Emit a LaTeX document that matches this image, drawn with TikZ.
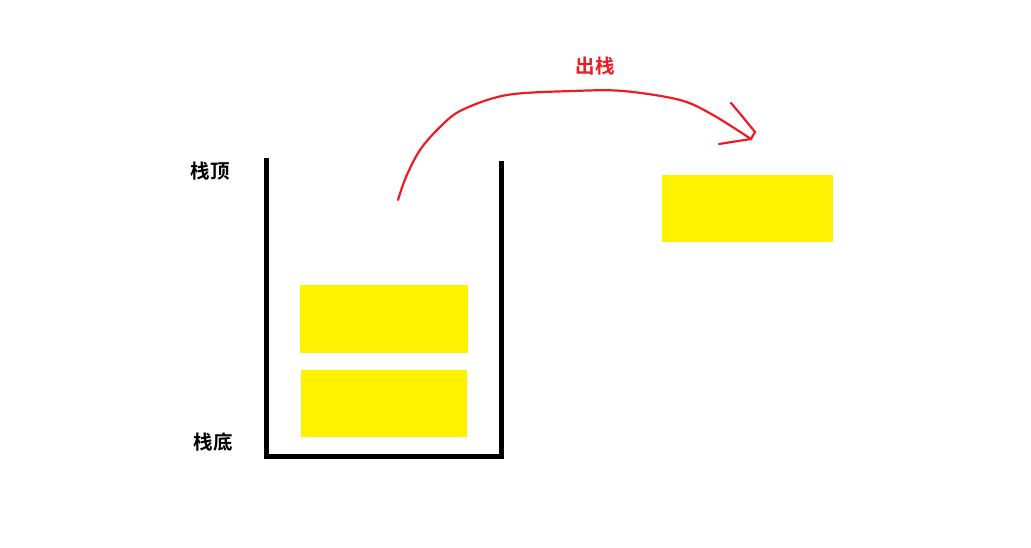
\documentclass[tikz,border=0pt]{standalone}
\usepackage{fontspec}
\newfontfamily\cjk{Noto Sans CJK SC}[BoldFont={Noto Sans CJK SC Bold}]
\definecolor{pred}{RGB}{237,28,36}
\definecolor{pyel}{RGB}{255,242,0}
\begin{document}
\begin{tikzpicture}[x=1pt,y=-1pt,
  block/.style={fill=pyel,draw=none},
  wall/.style={line width=5pt,black},
  lbl/.style={font=\cjk\bfseries\fontsize{19.5}{22}\selectfont,inner sep=0pt},
  redline/.style={pred,line width=2.2pt,line cap=round,line join=round}]
\useasboundingbox (0,0) rectangle (1031,547);
% stack
\coordinate (tl) at (266.5,158);
\coordinate (bl) at (266.5,456);
\coordinate (br) at (501.5,456);
\coordinate (tr) at (501.5,161);
\draw[wall] (tl) -- ([yshift=2.5pt]bl) ;
\draw[wall] ([xshift=-2.5pt]bl) -- ([xshift=2.5pt]br);
\draw[wall] ([yshift=2.5pt]br) -- (tr);
% blocks
\fill[block] (300,285) rectangle (468,353);
\fill[block] (301,370) rectangle (467,437);
\fill[block] (662,175) rectangle (833,242);
% labels
\node[lbl] (top) at (210,171) {栈顶};
\node[lbl] (bot) at (213,442) {栈底};
\node[lbl,text=pred] (out) at (595,66) {出栈};
% arrow
\coordinate (s) at (398,200);
\coordinate (e) at (751,139);
\draw[redline] plot[smooth,tension=0.55] coordinates {(398,200) (406,177) (420,150) (440,127) (462,110) (507,95) (573,91) (623,91) (680,100) (713,115) (751,139)};
\coordinate (h1) at (719,144);
\coordinate (h2) at (731,103);
\draw[redline] (h1) -- (e);
\draw[redline] (h2) -- (742,116) -- (755,132) -- (e);
\end{tikzpicture}
\end{document}
